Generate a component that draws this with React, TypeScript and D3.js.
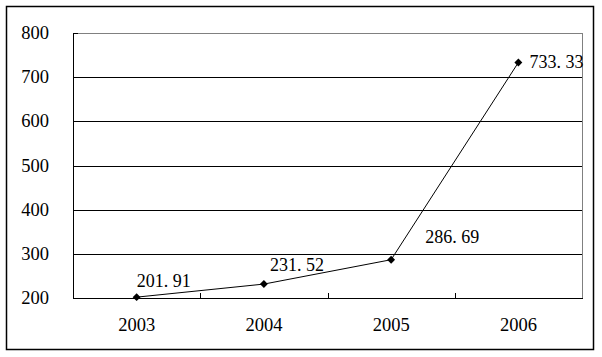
import React from "react";
import * as d3 from "d3";

const years = ["2003", "2004", "2005", "2006"];
const values = [201.91, 231.52, 286.69, 733.33];
const valueLabels = ["201. 91", "231. 52", "286. 69", "733. 33"];
const yTicks = [200, 300, 400, 500, 600, 700, 800];
// label offsets relative to the point (styling)
const labelOffsets: [number, number][] = [
  [0, -16],
  [6, -19],
  [34, -23],
  [11, 0],
];

export default function App() {
  const W = 602, H = 357;
  const left = 73, right = 582, top = 33, bottom = 298;
  const x = d3.scaleBand().domain(years).range([left, right]);
  const y = d3.scaleLinear().domain([200, 800]).range([bottom, top]);
  const line = d3
    .line<number>()
    .x((_, i) => x(years[i])! + x.bandwidth() / 2)
    .y((d) => y(d));
  const font = "'Liberation Serif', 'Times New Roman', serif";
  return (
    <svg width={W} height={H} style={{ position: "absolute", left: 0, top: 0 }}>
      <rect x={0} y={0} width={W} height={H} fill="#fff" />
      <rect x={6.5} y={6.5} width={587} height={343} fill="#fff" stroke="#000" strokeWidth={1.5} />
      {/* plot frame top/right gray */}
      <line x1={left} x2={right} y1={top + 0.5} y2={top + 0.5} stroke="#808080" />
      <line x1={right + 0.5} x2={right + 0.5} y1={top} y2={bottom} stroke="#808080" />
      {/* gridlines */}
      {yTicks.slice(1, -1).map((t) => (
        <line key={t} x1={left} x2={right} y1={Math.round(y(t)) + 0.5} y2={Math.round(y(t)) + 0.5} stroke="#000" />
      ))}
      {/* y axis */}
      <line x1={left + 0.5} x2={left + 0.5} y1={top} y2={bottom + 1} stroke="#000" />
      {yTicks.map((t) => (
        <g key={t}>
          <line x1={left} x2={left + 5} y1={Math.round(y(t)) + 0.5} y2={Math.round(y(t)) + 0.5} stroke="#000" />
          <text x={49} y={y(t)} textAnchor="end" dominantBaseline="central" fontFamily={font} fontSize={18.5} fill="#000">
            {t}
          </text>
        </g>
      ))}
      {/* x axis */}
      <line x1={left} x2={right + 1} y1={bottom + 0.5} y2={bottom + 0.5} stroke="#000" />
      {years.slice(1).map((yr) => (
        <line key={yr} x1={Math.round(x(yr)!) + 0.5} x2={Math.round(x(yr)!) + 0.5} y1={bottom} y2={bottom - 5} stroke="#000" />
      ))}
      {years.map((yr) => (
        <text key={yr} x={x(yr)! + x.bandwidth() / 2} y={325} textAnchor="middle" dominantBaseline="central" fontFamily={font} fontSize={18.5} fill="#000">
          {yr}
        </text>
      ))}
      <path d={line(values)!} fill="none" stroke="#000" strokeWidth={1} />
      {values.map((v, i) => {
        const cx = x(years[i])! + x.bandwidth() / 2;
        const cy = y(v);
        return (
          <g key={i}>
            <path d={d3.symbol(d3.symbolDiamond2, 40)()!} transform={`translate(${cx},${cy})`} fill="#000" />
            <text
              x={cx + labelOffsets[i][0]}
              y={cy + labelOffsets[i][1]}
              dominantBaseline="central"
              fontFamily={font}
              fontSize={18}
              fill="#000"
            >
              {valueLabels[i]}
            </text>
          </g>
        );
      })}
    </svg>
  );
}
